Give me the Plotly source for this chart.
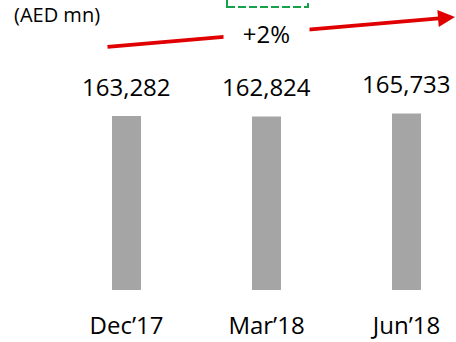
import plotly.graph_objects as go

categories = ["Dec’17", "Mar’18", "Jun’18"]
values = [163282, 162824, 165733]
value_labels = ["163,282", "162,824", "165,733"]
growth_label = "+2%"
unit_label = "(AED mn)"

W, H = 456, 342
plot_h = 290

fig = go.Figure()
fig.add_trace(go.Bar(
    x=[0, 1, 2], y=values, width=0.207,
    marker=dict(color="#a5a5a5", line=dict(width=0)),
    hoverinfo="skip",
))

font = "Open Sans, Liberation Sans, sans-serif"
annotations = []
for i, (v, t) in enumerate(zip(values, value_labels)):
    annotations.append(dict(x=i, y=v, xref="x", yref="y", text=t, showarrow=False,
                            yanchor="middle", yshift=30,
                            font=dict(family=font, size=24, color="#000")))

# arrow
annotations.append(dict(x=455 / W, y=(plot_h - 17) / plot_h, xref="paper", yref="paper",
                        ax=-349, ay=30, axref="pixel", ayref="pixel", text="",
                        showarrow=True, arrowhead=2, arrowsize=0.85, arrowwidth=4,
                        arrowcolor="#e00000"))
annotations.append(dict(x=266.5 / W, y=(plot_h - 33) / plot_h, xref="paper", yref="paper",
                        xanchor="center", yanchor="middle",
                        text=growth_label, showarrow=False, width=83, height=26,
                        bgcolor="#ffffff", font=dict(family=font, size=24, color="#000")))
annotations.append(dict(x=12 / W, y=(plot_h - 15) / plot_h, xref="paper", yref="paper",
                        xanchor="left", yanchor="middle", text=unit_label, showarrow=False,
                        font=dict(family=font, size=20, color="#000")))

shapes = [dict(type="rect", xref="paper", yref="paper",
               x0=227 / W, x1=308 / W, y0=(plot_h - 7) / plot_h, y1=1.05,
               line=dict(color="#16a04a", width=2, dash="8px,3px"), fillcolor="rgba(0,0,0,0)")]

fig.update_layout(
    width=W, height=H,
    margin=dict(l=0, r=0, t=0, b=H - plot_h, autoexpand=False),
    paper_bgcolor="#ffffff", plot_bgcolor="#ffffff",
    showlegend=False,
    annotations=annotations, shapes=shapes,
    xaxis=dict(range=[-126.5 / 140, 2 + (W - 406.5) / 140], tickmode="array",
               tickvals=[0, 1, 2], ticktext=categories, showgrid=False, zeroline=False,
               showline=False, ticks="outside", ticklen=14, tickcolor="rgba(0,0,0,0)",
               automargin=False,
               tickfont=dict(family=font, size=24, color="#000")),
    yaxis=dict(range=[0, plot_h * 163282 / 174], visible=False, showgrid=False,
               automargin=False),
)

fig.write_html("out.html")
